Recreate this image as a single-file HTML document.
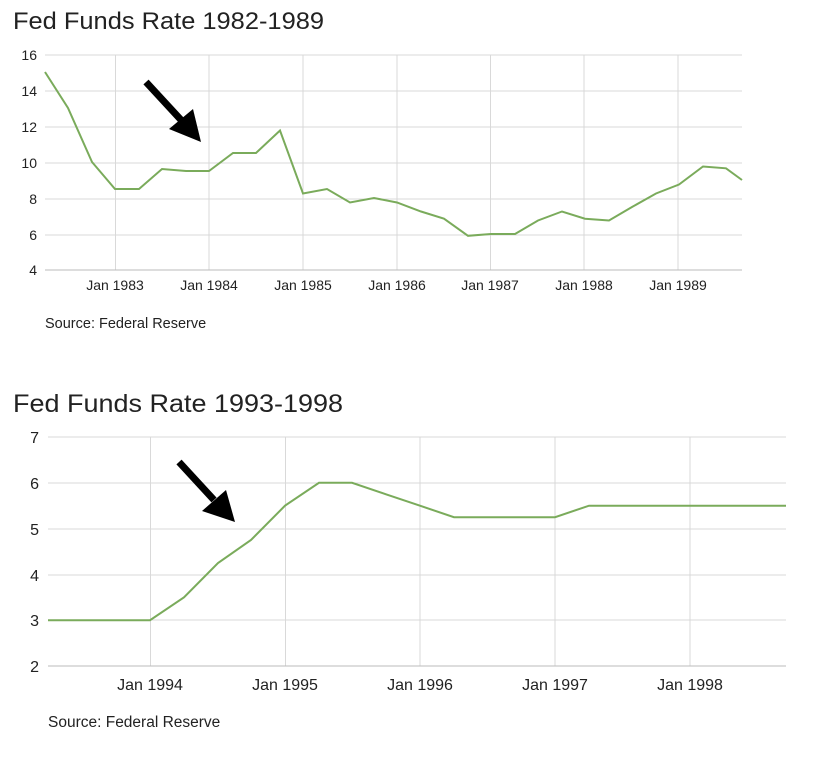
<!DOCTYPE html>
<html><head><style>
body{margin:0;background:#fff;width:818px;height:752px;overflow:hidden}
text{font-family:"Liberation Sans",Arial,sans-serif;fill:#222}
</style></head><body>
<svg width="818" height="752" xmlns="http://www.w3.org/2000/svg">
<text x="13" y="29" font-size="24" textLength="311" lengthAdjust="spacingAndGlyphs">Fed Funds Rate 1982-1989</text>
<g stroke="#d9d9d9" stroke-width="1">
<line x1="45" x2="742" y1="55" y2="55"/><line x1="45" x2="742" y1="91" y2="91"/><line x1="45" x2="742" y1="127" y2="127"/><line x1="45" x2="742" y1="163" y2="163"/><line x1="45" x2="742" y1="199" y2="199"/><line x1="45" x2="742" y1="235" y2="235"/>
<line x1="115.5" x2="115.5" y1="55" y2="270"/><line x1="209" x2="209" y1="55" y2="270"/><line x1="303" x2="303" y1="55" y2="270"/><line x1="397" x2="397" y1="55" y2="270"/><line x1="490.5" x2="490.5" y1="55" y2="270"/><line x1="584" x2="584" y1="55" y2="270"/><line x1="678" x2="678" y1="55" y2="270"/>
</g>
<line x1="45" x2="742" y1="270" y2="270" stroke="#bbb"/>
<g font-size="14" text-anchor="end">
<text x="37" y="60">16</text><text x="37" y="96">14</text><text x="37" y="132">12</text><text x="37" y="168">10</text><text x="37" y="204">8</text><text x="37" y="240">6</text><text x="37" y="275">4</text>
</g>
<g font-size="14" text-anchor="middle">
<text x="115" y="290">Jan 1983</text><text x="209" y="290">Jan 1984</text><text x="303" y="290">Jan 1985</text><text x="397" y="290">Jan 1986</text><text x="490" y="290">Jan 1987</text><text x="584" y="290">Jan 1988</text><text x="678" y="290">Jan 1989</text>
</g>
<polyline fill="none" stroke="#7aab5b" stroke-width="2" points="45,72 68,108 92,162 115,189 139,189 162,169 186,171 209,171 233,153 256,153 280,130.5 303,193.5 327,189 350,202.5 374,198 397,202.5 421,211.5 444,218.7 468,235.8 491,234 515,234 538,220.5 562,211.5 585,218.7 609,220.5 632,207 656,193.5 679,184.5 703,166.5 726,168.3 742,180"/>
<line x1="146" y1="82" x2="182" y2="121" stroke="#000" stroke-width="7"/>
<polygon points="193,109 169,129 201,142" fill="#000"/>
<text x="45" y="328" font-size="14.5">Source: Federal Reserve</text>

<text x="13" y="412" font-size="25" textLength="330" lengthAdjust="spacingAndGlyphs">Fed Funds Rate 1993-1998</text>
<g stroke="#d9d9d9" stroke-width="1">
<line x1="48" x2="786" y1="437" y2="437"/><line x1="48" x2="786" y1="483" y2="483"/><line x1="48" x2="786" y1="529" y2="529"/><line x1="48" x2="786" y1="575" y2="575"/><line x1="48" x2="786" y1="620" y2="620"/>
<line x1="150.5" x2="150.5" y1="437" y2="666"/><line x1="285.5" x2="285.5" y1="437" y2="666"/><line x1="420" x2="420" y1="437" y2="666"/><line x1="555" x2="555" y1="437" y2="666"/><line x1="690" x2="690" y1="437" y2="666"/>
</g>
<line x1="48" x2="786" y1="666" y2="666" stroke="#bbb"/>
<g font-size="16" text-anchor="end">
<text x="39" y="443">7</text><text x="39" y="489">6</text><text x="39" y="535">5</text><text x="39" y="581">4</text><text x="39" y="626">3</text><text x="39" y="672">2</text>
</g>
<g font-size="16" text-anchor="middle">
<text x="150" y="690">Jan 1994</text><text x="285" y="690">Jan 1995</text><text x="420" y="690">Jan 1996</text><text x="555" y="690">Jan 1997</text><text x="690" y="690">Jan 1998</text>
</g>
<polyline fill="none" stroke="#7aab5b" stroke-width="2" points="48,620.2 82,620.2 116,620.2 150,620.2 184,597.3 218,563 251,540 285,505.7 319,482.8 352,482.8 386,494.3 420,505.7 454,517.2 487,517.2 521,517.2 555,517.2 589,505.7 623,505.7 656,505.7 690,505.7 724,505.7 758,505.7 786,505.7"/>
<line x1="179" y1="462" x2="214" y2="500" stroke="#000" stroke-width="7"/>
<polygon points="226,490 202,511 235,522" fill="#000"/>
<text x="48" y="727" font-size="15.5">Source: Federal Reserve</text>
</svg>
</body></html>
